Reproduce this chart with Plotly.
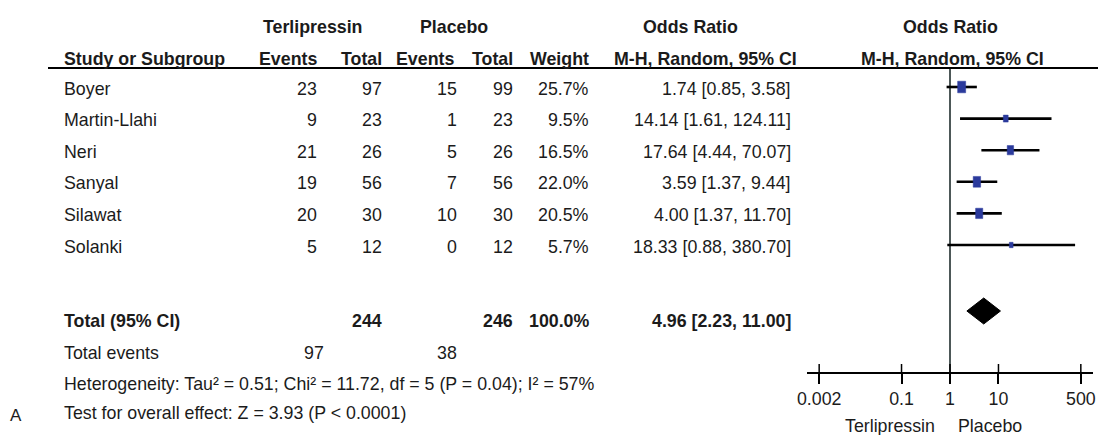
import plotly.graph_objects as go

# ---------------- data ----------------
studies = ["Boyer", "Martin-Llahi", "Neri", "Sanyal", "Silawat", "Solanki"]
t_events = [23, 9, 21, 19, 20, 5]
t_total = [97, 23, 26, 56, 30, 12]
p_events = [15, 1, 5, 7, 10, 0]
p_total = [99, 23, 26, 56, 30, 12]
weights = [25.7, 9.5, 16.5, 22.0, 20.5, 5.7]
or_est = [1.74, 14.14, 17.64, 3.59, 4.00, 18.33]
or_lo = [0.85, 1.61, 4.44, 1.37, 1.37, 0.88]
or_hi = [3.58, 124.11, 70.07, 9.44, 11.70, 380.70]

total_t = 244
total_p = 246
total_weight = 100.0
total_or = 4.96
total_lo = 2.23
total_hi = 11.00
events_t = 97
events_p = 38
het_text = "Heterogeneity: Tau² = 0.51; Chi² = 11.72, df = 5 (P = 0.04); I² = 57%"
test_text = "Test for overall effect: Z = 3.93 (P < 0.0001)"
tick_vals = [0.002, 0.1, 1, 10, 500]
tick_text = ["0.002", "0.1", "1", "10", "500"]
favours = ["Terlipressin", "Placebo"]

# ---------------- layout constants (page pixels) ----------------
W, H = 1098, 435
FONT = "Liberation Sans, Arial, sans-serif"
FS = 17.8
TXT = "#1b1b1b"
BLUE = "#2b3a9c"
ROW0, STEP = 87, 31.6
row_y = [ROW0 + i * STEP for i in range(len(studies))]
TEXT_DY = 1.5
TOTAL_Y = 319
DIAMOND_Y = 311
EVENTS_Y = 351
HET_Y = 382
TEST_Y = 411
HEAD1_Y, HEAD2_Y, RULE_Y = 25, 57, 68
AXIS_Y = 373
AX_L, AX_R = 807, 1093
LOG_MIN, LOG_MAX = -2.95, 2.95
PX_PER_DEC = (AX_R - AX_L) / (LOG_MAX - LOG_MIN)
COL_NAME = 62
COL_TE, COL_TT, COL_PE, COL_PT, COL_W, COL_OR = 319, 384, 459, 515, 591, 793

fig = go.Figure()

# ---------------- forest plot marks ----------------
# null line
fig.add_trace(go.Scatter(x=[1, 1], y=[RULE_Y, AXIS_Y], mode="lines",
                         line=dict(color="#4d5858", width=2),
                         xaxis="x2", yaxis="y", hoverinfo="skip", showlegend=False))
# CI lines
cx, cy = [], []
for lo, hi, y in zip(or_lo, or_hi, row_y):
    cx += [lo, hi, None]
    cy += [y, y, None]
fig.add_trace(go.Scatter(x=cx, y=cy, mode="lines", line=dict(color="black", width=2.6),
                         xaxis="x2", yaxis="y", hoverinfo="skip", showlegend=False))
# weighted boxes (rectangles sized by weight)
bx, by = [], []
for est, w, y in zip(or_est, weights, row_y):
    bw = 1.6 * w ** 0.5 - 0.1           # px width
    bh = bw * 1.45                       # px height
    f = 10 ** (bw / 2 / PX_PER_DEC)
    bx += [est / f, est * f, est * f, est / f, est / f, None]
    by += [y - bh / 2, y - bh / 2, y + bh / 2, y + bh / 2, y - bh / 2, None]
fig.add_trace(go.Scatter(x=bx, y=by, mode="lines", fill="toself", fillcolor=BLUE,
                         line=dict(color=BLUE, width=0.5),
                         xaxis="x2", yaxis="y", hoverinfo="skip", showlegend=False))
# diamond
fig.add_trace(go.Scatter(x=[total_lo, total_or, total_hi, total_or, total_lo],
                         y=[DIAMOND_Y, DIAMOND_Y - 13, DIAMOND_Y, DIAMOND_Y + 13, DIAMOND_Y],
                         mode="lines", fill="toself", fillcolor="black",
                         line=dict(color="black", width=1),
                         xaxis="x2", yaxis="y", hoverinfo="skip", showlegend=False))
# upper halves of axis ticks
tx, ty = [], []
for v in tick_vals:
    tx += [v, v, None]
    ty += [AXIS_Y - 9, AXIS_Y, None]
fig.add_trace(go.Scatter(x=tx, y=ty, mode="lines", line=dict(color="black", width=1.5),
                         xaxis="x2", yaxis="y", hoverinfo="skip", showlegend=False))

# ---------------- text ----------------
ann = []


def add(text, x, y, xanchor="left", bold=False, size=FS):
    if bold:
        text = "<b>" + text + "</b>"
    ann.append(dict(text=text, x=x, y=y + TEXT_DY, xref="x", yref="y", xanchor=xanchor,
                    yanchor="middle", showarrow=False,
                    font=dict(family=FONT, size=size, color=TXT)))


# headers
add("Terlipressin", 312, HEAD1_Y, "center", True)
add("Placebo", 454, HEAD1_Y, "center", True)
add("Odds Ratio", 690, HEAD1_Y, "center", True)
add("Odds Ratio", 950, HEAD1_Y, "center", True)
add("Study or Subgroup", COL_NAME, HEAD2_Y, "left", True)
add("Events", COL_TE, HEAD2_Y, "right", True)
add("Total", COL_TT, HEAD2_Y, "right", True)
add("Events", COL_PE - 3, HEAD2_Y, "right", True)
add("Total", COL_PT, HEAD2_Y, "right", True)
add("Weight", COL_W, HEAD2_Y, "right", True)
add("M-H, Random, 95% CI", 705, HEAD2_Y, "center", True)
add("M-H, Random, 95% CI", 952, HEAD2_Y, "center", True)

# study rows
for i, s in enumerate(studies):
    y = row_y[i]
    add(s, COL_NAME, y)
    add(str(t_events[i]), COL_TE, y, "right")
    add(str(t_total[i]), COL_TT, y, "right")
    add(str(p_events[i]), COL_PE, y, "right")
    add(str(p_total[i]), COL_PT, y, "right")
    add(f"{weights[i]:.1f}%", COL_W, y, "right")
    add(f"{or_est[i]:.2f} [{or_lo[i]:.2f}, {or_hi[i]:.2f}]", COL_OR, y, "right")

# totals
add("Total (95% CI)", COL_NAME, TOTAL_Y, "left", True)
add(str(total_t), COL_TT, TOTAL_Y, "right", True)
add(str(total_p), COL_PT, TOTAL_Y, "right", True)
add(f"{total_weight:.1f}%", COL_W, TOTAL_Y, "right", True)
add(f"{total_or:.2f} [{total_lo:.2f}, {total_hi:.2f}]", COL_OR, TOTAL_Y, "right", True)
add("Total events", COL_NAME, EVENTS_Y)
add(str(events_t), 326, EVENTS_Y, "right")
add(str(events_p), COL_PE, EVENTS_Y, "right")
add(het_text, COL_NAME, HET_Y)
add(test_text, COL_NAME, TEST_Y)
add("A", 8, 414, "left", False, 17)
add(favours[0], 890, 424, "center")
add(favours[1], 990, 424, "center")

shapes = [dict(type="line", xref="x", yref="y", x0=48, x1=W, y0=RULE_Y, y1=RULE_Y,
               line=dict(color="black", width=2))]

fig.update_layout(
    width=W, height=H,
    margin=dict(l=0, r=0, t=0, b=0, autoexpand=False),
    paper_bgcolor="white", plot_bgcolor="rgba(0,0,0,0)",
    showlegend=False,
    annotations=ann, shapes=shapes,
    xaxis=dict(range=[0, W], domain=[0, 1], visible=False, fixedrange=True),
    yaxis=dict(range=[H, 0], domain=[0, 1], visible=False, fixedrange=True),
    xaxis2=dict(type="log", range=[LOG_MIN, LOG_MAX],
                domain=[AX_L / W, AX_R / W],
                anchor="free", position=(H - AXIS_Y) / H, automargin=False,
                showline=True, linecolor="black", linewidth=2,
                ticks="outside", ticklen=10, tickwidth=1.5, tickcolor="black",
                tickvals=tick_vals, ticktext=tick_text,
                tickfont=dict(family=FONT, size=FS, color=TXT),
                showgrid=False, zeroline=False, fixedrange=True),
)

# remove the default 8px page margin so the figure fills the window exactly
fig.write_html("out.html", config={"displayModeBar": False},
               post_script="document.body.style.margin='0';document.body.style.overflow='hidden';")
